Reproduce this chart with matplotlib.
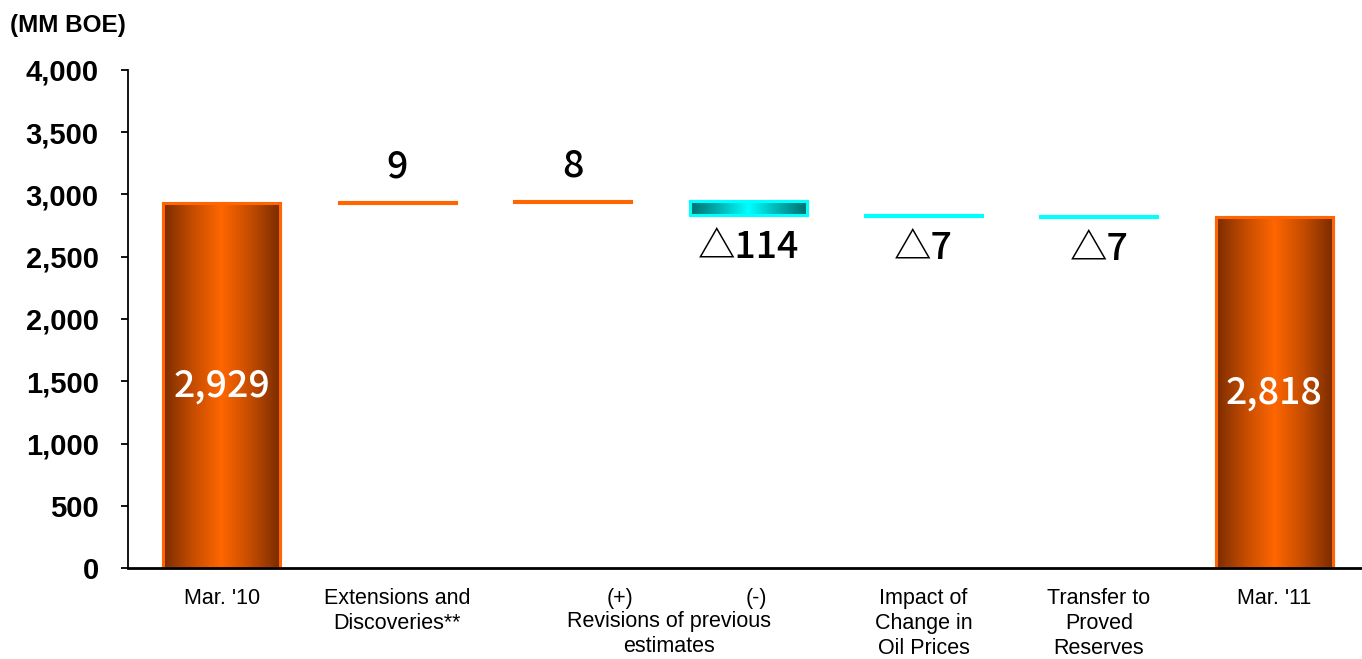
import numpy as np
import matplotlib
matplotlib.use("Agg")
import matplotlib.pyplot as plt
from matplotlib.colors import LinearSegmentedColormap
from matplotlib.transforms import blended_transform_factory

# Proved reserves bridge, MM BOE
categories = ["Mar. '10", "Extensions and\nDiscoveries**", "(+)", "(-)",
              "Impact of\nChange in\nOil Prices", "Transfer to\nProved\nReserves", "Mar. '11"]
start_value = 2929
changes = [9, 8, -114, -7, -7]
end_value = 2818
change_labels = ["9", "8", "△114", "△7", "△7"]
total_labels = ["2,929", "2,818"]
yticks = [0, 500, 1000, 1500, 2000, 2500, 3000, 3500, 4000]
ytick_labels = ["0", "500", "1,000", "1,500", "2,000", "2,500", "3,000", "3,500", "4,000"]

ORANGE = "#ff6600"
CYAN = "#00ffff"
orange_cmap = LinearSegmentedColormap.from_list("og", ["#7a2c00", "#c44c00", ORANGE, "#c44c00", "#7a2c00"])
cyan_cmap = LinearSegmentedColormap.from_list("cy", ["#006e6e", "#00b4b4", CYAN, "#00b4b4", "#006e6e"])

fig = plt.figure(figsize=(13.62, 6.59), dpi=100)
ax = fig.add_axes([0.094, 0.138, 0.906, 0.756])

x = np.arange(len(categories))
width = 0.667

# bar bottoms/heights for the bridge
levels = np.cumsum([start_value] + changes)
bottoms = [0]
heights = [start_value]
for i, c in enumerate(changes):
    lo = min(levels[i], levels[i + 1])
    bottoms.append(lo)
    heights.append(abs(c))
bottoms.append(0)
heights.append(end_value)

face_cols = [ORANGE] + [ORANGE if c > 0 else CYAN for c in changes] + [ORANGE]
cmaps = [orange_cmap] + [orange_cmap if c > 0 else cyan_cmap for c in changes] + [orange_cmap]

grad = np.linspace(0, 1, 256).reshape(1, -1)
bars = ax.bar(x, heights, width=width, bottom=bottoms, color=face_cols,
              edgecolor=face_cols, linewidth=2.2, zorder=2)
for b, cm in zip(bars, cmaps):
    x0, y0 = b.get_x(), b.get_y()
    w, h = b.get_width(), b.get_height()
    im = ax.imshow(grad, extent=[x0, x0 + w, y0, y0 + h], aspect="auto",
                   cmap=cm, zorder=2.5, interpolation="bicubic")
    im.set_clip_path(b)
    # redraw edge above gradient
    ax.add_patch(plt.Rectangle((x0, y0), w, h, fill=False, edgecolor=b.get_edgecolor(),
                               linewidth=2.2, zorder=3))

ax.set_xlim(-0.535, 6.5)
ax.set_ylim(0, 4000)

label_font = ["Noto Sans CJK JP", "DejaVu Sans"]
# change labels
for i, (c, lab) in enumerate(zip(changes, change_labels)):
    j = i + 1
    if c > 0:
        ax.annotate(lab, (x[j], bottoms[j] + heights[j]), xytext=(0, 26), textcoords="offset points",
                    ha="center", va="center", fontsize=27, family=label_font, fontweight="medium")
    else:
        ax.annotate(lab, (x[j], bottoms[j]), xytext=(0, -23), textcoords="offset points",
                    ha="center", va="center", fontsize=27, family=label_font, fontweight="medium")

# totals inside bars
for j, lab in zip([0, len(categories) - 1], total_labels):
    ax.text(x[j], heights[j] / 2, lab, ha="center", va="center", color="white",
            fontsize=27, family=label_font, fontweight="medium", zorder=4)

# axes styling
for s in ["top", "right"]:
    ax.spines[s].set_visible(False)
ax.spines["left"].set_linewidth(1.3)
ax.spines["bottom"].set_linewidth(2)
ax.spines["bottom"].set_zorder(5)
ax.set_yticks(yticks)
ax.set_yticklabels(ytick_labels, fontsize=21, fontweight="bold", family="Liberation Sans")
ax.tick_params(axis="y", direction="out", length=5, width=1.3, pad=16)
ax.set_xticks([])

# category labels
tr = blended_transform_factory(ax.transData, ax.transAxes)
cat_font = dict(fontsize=15.5, family="Liberation Sans", ha="center", va="top", linespacing=1.25)
for j in [0, 1, 4, 5, 6]:
    ax.text(x[j], -0.04, categories[j], transform=tr, **cat_font)
ax.text(x[2] + 0.27, -0.04, categories[2], transform=tr, **cat_font)
ax.text(x[3] + 0.05, -0.04, categories[3], transform=tr, **cat_font)
ax.text(2.55, -0.087, "Revisions of previous\nestimates", transform=tr, **cat_font)

fig.text(0.007, 0.962, "(MM BOE)", fontsize=17.5, fontweight="bold", family="Liberation Sans",
         ha="left", va="center")

fig.savefig("out.png", dpi=100)
